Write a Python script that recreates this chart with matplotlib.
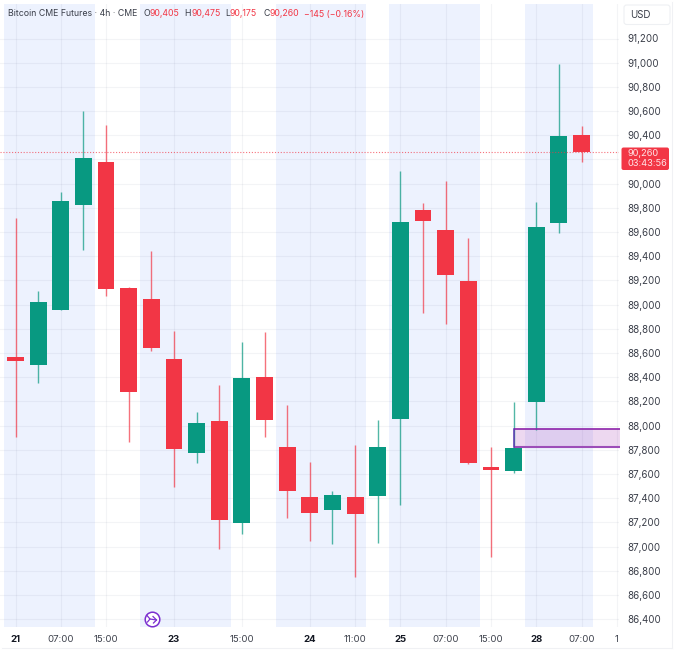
import matplotlib
matplotlib.use("Agg")
import matplotlib.pyplot as plt
from matplotlib.patches import Rectangle, FancyBboxPatch
from matplotlib.lines import Line2D

plt.rcParams['font.family'] = ['Inter', 'DejaVu Sans']

opens  = [88570,88501,88956,89824,90179,89137,89046,88550,87773,88038,87195,88402,87823,87410,87302,87410,87418,88054,89782,89617,89195,87658,87625,88195,89675,90405]
highs  = [89716,89113,89931,90601,90485,89145,89443,88782,88112,88335,88691,88774,88170,87699,87459,87839,88046,90105,89840,90022,89551,87823,88195,89848,90989,90475]
lows   = [87906,88352,88956,89452,89071,87864,88620,87492,87691,86980,87104,87906,87236,87046,87025,86748,87029,87343,88931,88840,87680,86914,87610,87964,89592,90175]
closes = [88530,89022,89857,90212,89129,88278,88641,87806,88021,87219,88393,88046,87459,87277,87426,87269,87823,89683,89691,89245,87691,87633,87815,89642,90394,90260]
session_bands = [(-0.5,3.5),(5.5,9.5),(11.5,15.5),(16.5,20.5),(22.5,25.5)]
x_ticks = [0,2,4,7,10,13,15,17,19,21,23,25,26.55]
x_labels = ['21','07:00','15:00','23','15:00','24','11:00','25','07:00','15:00','28','07:00','1']
bold_labels = {'21','23','24','25','28'}
y_ticks = list(range(86400,91201,200))
y_hidden = {90200}
zone = (87823,87975)
last_price = 90260

GREEN='#089981'; RED='#F23645'; BAND='#EDF2FE'; TXT='#3A3E49'
W,H=680,654
fig=plt.figure(figsize=(W/100,H/100),dpi=100,facecolor='white')
def fx(p): return p/W
def fy(p): return 1-p/H

top,bot,left,right=4,627,0,619
ax=fig.add_axes([fx(left),fy(bot),fx(right-left),(bot-top)/H])
sp=22.64; x0=15.5
ax.set_xlim((left-x0)/sp,(right-x0)/sp)
k=0.12096
ax.set_ylim(91200-(bot-38.5)/k,91200+(38.5-top)/k)
for s in ax.spines.values(): s.set_visible(False)
ax.set_axisbelow(True)
ax.grid(True,color='#1E2A50',alpha=0.05,lw=0.8,zorder=1)
for a,b in session_bands:
    ax.axvspan(a,b,color=BAND,lw=0,zorder=0.2)
ax.set_xticks(x_ticks); ax.set_xticklabels(x_labels,fontsize=6.9,color=TXT)
for t in ax.get_xticklabels():
    if t.get_text() in bold_labels: t.set_fontweight('bold'); t.set_color('#131722')
ax.set_yticks(y_ticks); ax.set_yticklabels(['' if v in y_hidden else f'{v:,}' for v in y_ticks],fontsize=7.0,color=TXT)
ax.yaxis.tick_right()
ax.tick_params(axis='both',length=0)
ax.tick_params(axis='y',pad=6.2)
ax.tick_params(axis='x',pad=6)

for i,(o,h,l,c) in enumerate(zip(opens,highs,lows,closes)):
    col=GREEN if c>=o else RED
    ax.vlines(i,l,h,color=col,lw=1,zorder=3,alpha=0.7)
    ax.bar(i,abs(c-o),bottom=min(o,c),width=0.745,color=col,lw=0,zorder=4)

ax.axhline(last_price,color=RED,lw=0.8,ls=(0,(1,1.6)),zorder=5,alpha=0.7)

# zone
ze=26.7
ax.add_patch(Rectangle((22,zone[0]),ze-22,zone[1]-zone[0],facecolor='#9C27B0',alpha=0.18,lw=0,zorder=2.5,clip_on=False))
ax.plot([22,ze],[zone[1]]*2,color='#8E24AA',lw=1.2,zorder=6,solid_capstyle='butt',clip_on=False)
ax.plot([22,ze],[zone[0]]*2,color='#9C4DB8',lw=1.5,zorder=6,solid_capstyle='butt',clip_on=False)
ax.plot([22,22],zone,color='#5E35B1',lw=1.1,zorder=6)

# card + axis furniture
fig.add_artist(Line2D([fx(672)]*2,[fy(2),fy(648)],color='#F0F1F4',lw=0.8))
fig.add_artist(Line2D([fx(2),fx(672)],[fy(648)]*2,color='#F0F1F4',lw=0.8))
fig.add_artist(FancyBboxPatch((fx(624),fy(24.5)),46/W,19.5/H,boxstyle='round,pad=0,rounding_size=0.004',
               transform=fig.transFigure,fc='white',ec='#EEF0F3',lw=0.8))
fig.text(fx(630.5),fy(15),'USD',ha='left',va='center',fontsize=7.0,color=TXT)
# price label
fig.add_artist(FancyBboxPatch((fx(621.5),fy(170)),47.5/W,22.5/H,boxstyle='round,pad=0,rounding_size=0.003',
               transform=fig.transFigure,fc=RED,ec='none'))
fig.text(fx(627.5),fy(158.5),'90,260\n03:43:56',ha='left',va='center',fontsize=6.7,linespacing=1.15,color='#FFE3E6')

# header
base=fy(16.5)
pieces=[(8,'Bitcoin CME Futures · 4h · CME',TXT),(143,'O',TXT),(149.5,'90,405',RED),(184,'H',TXT),(191,'90,475',RED),
        (225,'L',TXT),(230,'90,175',RED),(263,'C',TXT),(269.5,'90,260',RED),(303.5,'−145 (−0.16%)',RED)]
for px,s,c in pieces:
    fig.text(fx(px),base,s,ha='left',va='baseline',fontsize=6.3,color=c)

# event icon
PUR='#7B2FD0'
fig.add_artist(Line2D([fx(151.5)],[fy(619)],marker='o',ms=10.5,mfc='white',mec=PUR,mew=1.1))
fig.add_artist(Line2D([fx(150),fx(156.5)],[fy(619),fy(620)],color=PUR,lw=0.9))
fig.add_artist(Line2D([fx(153),fx(156.5),fx(153.5)],[fy(616.5),fy(620),fy(623)],color=PUR,lw=0.9))
fig.add_artist(Line2D([fx(147),fx(150),fx(147.5)],[fy(615.5),fy(619),fy(622)],color=PUR,lw=0.9))

fig.savefig('out.png',dpi=100,facecolor='white')
